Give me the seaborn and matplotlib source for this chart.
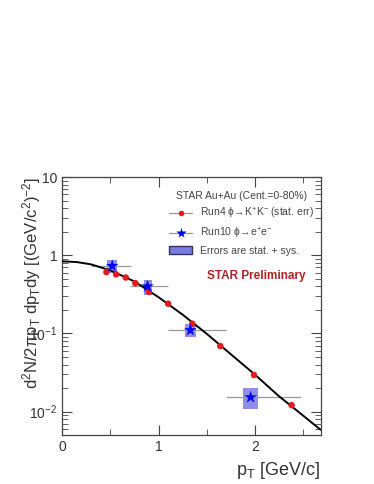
import matplotlib
matplotlib.use("Agg")
import matplotlib.pyplot as plt
from matplotlib.lines import Line2D
from matplotlib.patches import Patch
from matplotlib.ticker import FixedLocator, LogLocator, NullFormatter
import numpy as np
import pandas as pd
import seaborn as sns

# Run4 phi -> K+K- (red points)
k_pt = [0.46, 0.56, 0.66, 0.76, 0.90, 1.10, 1.35, 1.64, 1.99, 2.38]
k_yield = [0.61, 0.57, 0.52, 0.44, 0.34, 0.24, 0.133, 0.069, 0.0294, 0.0121]

# Run10 phi -> e+e- (blue stars)
e_pt = [0.52, 0.886, 1.33, 1.955]
e_yield = [0.73, 0.40, 0.110, 0.0152]
e_xlo = [0.30, 0.70, 1.10, 1.70]
e_xhi = [0.71, 1.10, 1.70, 2.48]
e_box_lo = [0.60, 0.31, 0.089, 0.0107]
e_box_hi = [0.86, 0.49, 0.132, 0.0198]
e_box_w = [0.10, 0.083, 0.114, 0.163]

# fit curve
fit_pt = [0.0, 0.15, 0.3, 0.5, 0.75, 1.0, 1.25, 1.5, 1.75, 2.0, 2.25, 2.5, 2.68]
fit_yield = [0.837, 0.82, 0.766, 0.641, 0.463, 0.291, 0.174, 0.099, 0.0542,
             0.0297, 0.0157, 0.00888, 0.00586]

sns.set_theme(style="ticks")
plt.rcParams["font.family"] = ["Liberation Sans", "DejaVu Sans"]
plt.rcParams["mathtext.fontset"] = "custom"
plt.rcParams["mathtext.rm"] = "Liberation Sans"
plt.rcParams["mathtext.it"] = "Liberation Sans"
plt.rcParams["mathtext.bf"] = "Liberation Sans:bold"

kdf = pd.DataFrame({"pt": k_pt, "y": k_yield})
edf = pd.DataFrame({"pt": e_pt, "y": e_yield})
fdf = pd.DataFrame({"pt": fit_pt, "y": fit_yield})

fig = plt.figure(figsize=(3.74, 4.84), dpi=100)
ax = fig.add_axes([0.166, 0.101, 0.691, 0.533])

box_col = "#7b7be6"
ax.bar(e_pt, np.array(e_box_hi) - np.array(e_box_lo), bottom=e_box_lo,
       width=e_box_w, color=box_col, alpha=0.85, linewidth=0, zorder=1)

xerr = [np.array(e_pt) - np.array(e_xlo), np.array(e_xhi) - np.array(e_pt)]
ax.errorbar(e_pt, e_yield, xerr=xerr, fmt="none", ecolor="#999999",
            elinewidth=0.9, zorder=2)

sns.lineplot(data=fdf, x="pt", y="y", color="black", lw=1.4, ax=ax, zorder=3)
sns.scatterplot(data=kdf, x="pt", y="y", color="#e41a1c", s=22,
                edgecolor="none", ax=ax, zorder=4)
sns.scatterplot(data=edf, x="pt", y="y", color="#0000ff", marker="*", s=90,
                edgecolor="none", ax=ax, zorder=5)

ax.set_yscale("log")
ax.set_xlim(0, 2.68)
ax.set_ylim(0.005, 10)
ax.xaxis.set_major_locator(FixedLocator([0, 1, 2]))
ax.xaxis.set_minor_locator(FixedLocator([0.5, 1.5, 2.5]))
ax.yaxis.set_major_locator(FixedLocator([0.01, 0.1, 1, 10]))
ax.yaxis.set_minor_locator(LogLocator(base=10, subs=np.arange(2, 10)))
ax.yaxis.set_minor_formatter(NullFormatter())
ax.set_yticklabels([r"$10^{-2}$", r"$10^{-1}$", "1", "10"])
ax.tick_params(which="both", direction="in", top=True, right=True,
               labelsize=10, colors="#444444", labelcolor="#333333")
ax.tick_params(which="major", length=7, width=0.8)
ax.tick_params(which="minor", length=4, width=0.6)
for sp in ax.spines.values():
    sp.set_color("#444444")
    sp.set_linewidth(0.9)

ax.set_xlabel(r"p$_{\mathrm{T}}$ [GeV/c]", loc="right", fontsize=13, color="#333333")
ax.set_ylabel(r"d$^{2}$N/2$\pi$p$_{\mathrm{T}}$ dp$_{\mathrm{T}}$dy [(GeV/c$^{2}$)$^{-2}$]",
              loc="top", fontsize=12, color="#333333", labelpad=-10)

handles = [
    Line2D([], [], color="#999999", lw=0.9, marker="o", markersize=4,
           markerfacecolor="#e41a1c", markeredgecolor="none"),
    Line2D([], [], color="#999999", lw=0.9, marker="*", markersize=8,
           markerfacecolor="#0000ff", markeredgecolor="none"),
    Patch(facecolor=box_col, edgecolor="#333355", linewidth=1.0),
]
labels = [r"Run4 $\phi\!\rightarrow\!$K$^{+}$K$^{-}$ (stat. err)",
          r"Run10 $\phi\!\rightarrow\!$e$^{+}$e$^{-}$",
          "Errors are stat. + sys."]
leg = ax.legend(handles, labels, title="STAR Au+Au (Cent.=0-80%)",
                loc="upper right", bbox_to_anchor=(1.0, 0.97), frameon=False,
                fontsize=7.5, title_fontsize=7.5, handlelength=2.2,
                labelspacing=0.45, borderaxespad=0.2)
for t in leg.get_texts():
    t.set_color("#444444")
leg.get_title().set_color("#444444")

ax.text(0.75, 0.617, "STAR Preliminary", transform=ax.transAxes, ha="center",
        va="center", fontsize=8.5, fontweight="bold", color="#b22222")

fig.savefig("out.png", dpi=100)
